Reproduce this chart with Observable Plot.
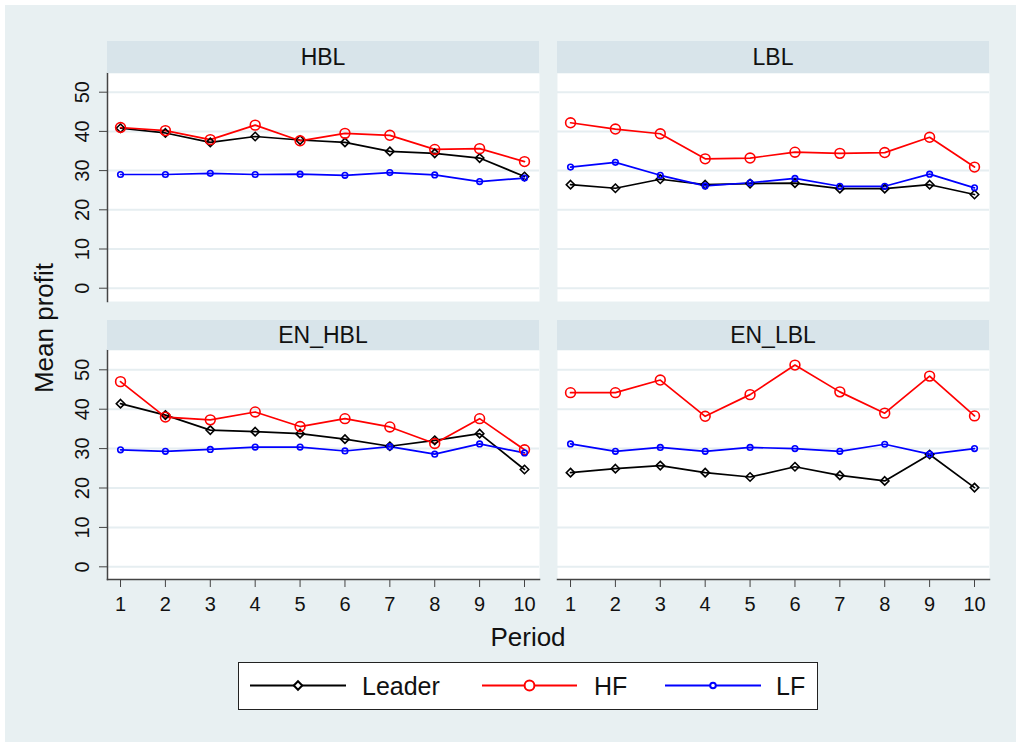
<!DOCTYPE html>
<html>
<head>
<meta charset="utf-8">
<script src="https://cdn.jsdelivr.net/npm/d3@7"></script>
<script src="https://cdn.jsdelivr.net/npm/@observablehq/plot@0.6"></script>
<style>
  html, body { margin: 0; padding: 0; background: #ffffff; }
  #chart { position: relative; width: 1016px; height: 742px; overflow: hidden; background: #ffffff;
           font-family: "Liberation Sans", Arial, Helvetica, sans-serif; color: #111; }
  #bg { position: absolute; left: 5px; top: 5px; right: 0; bottom: 0; background: #e8f0f2; }
  .strip { position: absolute; background: #d8e4ea; text-align: center; font-size: 23px; color: #111; }
  .panel { position: absolute; }
  .title { position: absolute; font-size: 26px; line-height: 1; white-space: nowrap; color: #111; }
  #legend { position: absolute; left: 238px; top: 662px; width: 580px; height: 48px; box-sizing: border-box;
            background: #fff; border: 1.5px solid #222; }
</style>
</head>
<body>
<div id="chart">
  <div id="bg"></div>
</div>
<script>
// ---------- data ----------
const periods = [1, 2, 3, 4, 5, 6, 7, 8, 9, 10];
const panelNames = ["HBL", "LBL", "EN_HBL", "EN_LBL"];
const seriesNames = ["Leader", "HF", "LF"];
const yTicks = [0, 10, 20, 30, 40, 50];

const leaderHBL   = [40.8, 39.6, 37.2, 38.7, 37.8, 37.2, 34.9, 34.4, 33.2, 28.5];
const hfHBL       = [41.0, 40.2, 37.9, 41.6, 37.6, 39.5, 39.0, 35.4, 35.6, 32.3];
const lfHBL       = [29.0, 29.0, 29.3, 29.0, 29.1, 28.8, 29.5, 28.9, 27.2, 28.1];

const leaderLBL   = [26.4, 25.5, 27.8, 26.4, 26.7, 26.8, 25.4, 25.4, 26.4, 23.9];
const hfLBL       = [42.2, 40.6, 39.4, 33.0, 33.2, 34.7, 34.4, 34.6, 38.5, 30.9];
const lfLBL       = [30.9, 32.1, 28.8, 26.1, 26.9, 28.0, 26.0, 26.0, 29.1, 25.6];

const leaderENHBL = [41.4, 38.5, 34.7, 34.3, 33.8, 32.4, 30.6, 32.1, 33.8, 24.7];
const hfENHBL     = [47.0, 38.0, 37.3, 39.3, 35.6, 37.6, 35.5, 31.3, 37.6, 29.7];
const lfENHBL     = [29.7, 29.3, 29.8, 30.4, 30.4, 29.4, 30.5, 28.6, 31.2, 28.9];

const leaderENLBL = [23.9, 24.9, 25.7, 23.9, 22.8, 25.4, 23.2, 21.8, 28.5, 20.1];
const hfENLBL     = [44.2, 44.2, 47.4, 38.2, 43.7, 51.2, 44.4, 39.0, 48.4, 38.3];
const lfENLBL     = [31.2, 29.3, 30.3, 29.3, 30.3, 30.0, 29.3, 31.1, 28.6, 30.0];

const seriesByPanel = {
  HBL:    {Leader: leaderHBL,   HF: hfHBL,   LF: lfHBL},
  LBL:    {Leader: leaderLBL,   HF: hfLBL,   LF: lfLBL},
  EN_HBL: {Leader: leaderENHBL, HF: hfENHBL, LF: lfENHBL},
  EN_LBL: {Leader: leaderENLBL, HF: hfENLBL, LF: lfENLBL}
};

const rows = [];
for (const p of panelNames)
  for (const s of seriesNames)
    seriesByPanel[p][s].forEach((v, i) => rows.push({panel: p, series: s, period: periods[i], value: v}));

// ---------- styles ----------
const colors = {Leader: "#000000", HF: "#ff0000", LF: "#0000ff"};
const symbols = {Leader: "diamond2", HF: "circle", LF: "circle"};
const radii = {Leader: 3.8, HF: 4.9, LF: 2.8};

const chart = document.getElementById("chart");

const layout = {
  HBL:    {left: 55,  top: 73,  width: 484, plotH: 228, marginLeft: 52, showY: true,  showX: false, yDomain: [-3.39, 54.77], stripTop: 41,  stripH: 32},
  LBL:    {left: 557, top: 73,  width: 432, plotH: 228, marginLeft: 0,  showY: false, showX: false, yDomain: [-3.39, 54.77], stripTop: 41,  stripH: 32},
  EN_HBL: {left: 55,  top: 350, width: 484, plotH: 229, marginLeft: 52, showY: true,  showX: true,  yDomain: [-3.22, 54.9],  stripTop: 320, stripH: 30},
  EN_LBL: {left: 557, top: 350, width: 432, plotH: 229, marginLeft: 0,  showY: false, showX: true,  yDomain: [-3.22, 54.9],  stripTop: 320, stripH: 30}
};

for (const name of panelNames) {
  const L = layout[name];
  const data = rows.filter(d => d.panel === name);
  const marginBottom = L.showX ? 45 : 0;
  const marks = [
    Plot.frame({fill: "white", stroke: "none"}),
    Plot.gridY(yTicks, {stroke: "#e6eef1", strokeOpacity: 1, strokeWidth: 2})
  ];
  if (L.showY) {
    marks.push(Plot.frame({anchor: "left", stroke: "#444", strokeWidth: 1.5}));
    marks.push(Plot.axisY({ticks: yTicks, tickSize: 8, tickRotate: -90, tickPadding: 11, fontSize: 20, label: null, stroke: "#444"}));
  }
  if (L.showX) {
    marks.push(Plot.frame({anchor: "bottom", stroke: "#444", strokeWidth: 1.5}));
    marks.push(Plot.axisX({ticks: periods, tickSize: 8, tickPadding: 9, fontSize: 20, label: null, stroke: "#444", tickFormat: d => String(d)}));
  }
  for (const s of seriesNames) {
    const sd = data.filter(d => d.series === s);
    marks.push(Plot.line(sd, {x: "period", y: "value", stroke: colors[s], strokeWidth: 1.7}));
  }
  for (const s of seriesNames) {
    const sd = data.filter(d => d.series === s);
    marks.push(Plot.dot(sd, {x: "period", y: "value", stroke: colors[s], fill: "none", symbol: symbols[s], r: radii[s], strokeWidth: 1.6}));
  }
  const svg = Plot.plot({
    width: L.width,
    height: L.plotH + marginBottom,
    marginLeft: L.marginLeft, marginRight: 0, marginTop: 0, marginBottom,
    style: {background: "transparent", color: "#111", fontFamily: "Liberation Sans, Arial, sans-serif", overflow: "visible"},
    x: {domain: [0.71, 10.334], axis: null},
    y: {domain: L.yDomain, axis: null},
    marks
  });
  svg.classList.add("panel");
  svg.style.left = L.left + "px";
  svg.style.top = L.top + "px";
  svg.style.position = "absolute";
  chart.appendChild(svg);

  const strip = document.createElement("div");
  strip.className = "strip";
  strip.style.left = (L.left + L.marginLeft) + "px";
  strip.style.top = L.stripTop + "px";
  strip.style.width = (L.width - L.marginLeft) + "px";
  strip.style.height = L.stripH + "px";
  strip.style.lineHeight = L.stripH + "px";
  strip.textContent = name;
  chart.appendChild(strip);
}

// axis titles
const yTitle = document.createElement("div");
yTitle.className = "title";
yTitle.textContent = "Mean profit";
yTitle.style.left = "44px";
yTitle.style.top = "328px";
yTitle.style.transform = "translate(-50%, -50%) rotate(-90deg)";
chart.appendChild(yTitle);

const xTitle = document.createElement("div");
xTitle.className = "title";
xTitle.textContent = "Period";
xTitle.style.left = "528px";
xTitle.style.top = "624px";
xTitle.style.transform = "translateX(-50%)";
chart.appendChild(xTitle);

// legend
const legend = document.createElement("div");
legend.id = "legend";
const ns = "http://www.w3.org/2000/svg";
const lsvg = document.createElementNS(ns, "svg");
lsvg.setAttribute("width", 577);
lsvg.setAttribute("height", 45);
lsvg.style.display = "block";
const legendItems = [
  {s: "Leader", x0: 11,  x1: 107, tx: 123},
  {s: "HF",     x0: 243, x1: 338, tx: 355},
  {s: "LF",     x0: 426, x1: 522, tx: 537}
];
const cy = 22.5;
for (const it of legendItems) {
  const line = document.createElementNS(ns, "line");
  line.setAttribute("x1", it.x0); line.setAttribute("x2", it.x1);
  line.setAttribute("y1", cy); line.setAttribute("y2", cy);
  line.setAttribute("stroke", colors[it.s]); line.setAttribute("stroke-width", 2);
  lsvg.appendChild(line);
  const cx = (it.x0 + it.x1) / 2;
  const sym = document.createElementNS(ns, "path");
  const symType = it.s === "Leader" ? d3.symbolDiamond2 : d3.symbolCircle;
  const r = radii[it.s];
  sym.setAttribute("d", d3.symbol(symType, Math.PI * r * r)());
  sym.setAttribute("transform", `translate(${cx},${cy})`);
  sym.setAttribute("fill", "white");
  sym.setAttribute("stroke", colors[it.s]); sym.setAttribute("stroke-width", 2);
  lsvg.appendChild(sym);
  const t = document.createElementNS(ns, "text");
  t.setAttribute("x", it.tx); t.setAttribute("y", cy + 9);
  t.setAttribute("font-size", 25);
  t.setAttribute("font-family", "Liberation Sans, Arial, sans-serif");
  t.setAttribute("fill", "#111");
  t.textContent = it.s;
  lsvg.appendChild(t);
}
legend.appendChild(lsvg);
chart.appendChild(legend);
</script>
</body>
</html>
